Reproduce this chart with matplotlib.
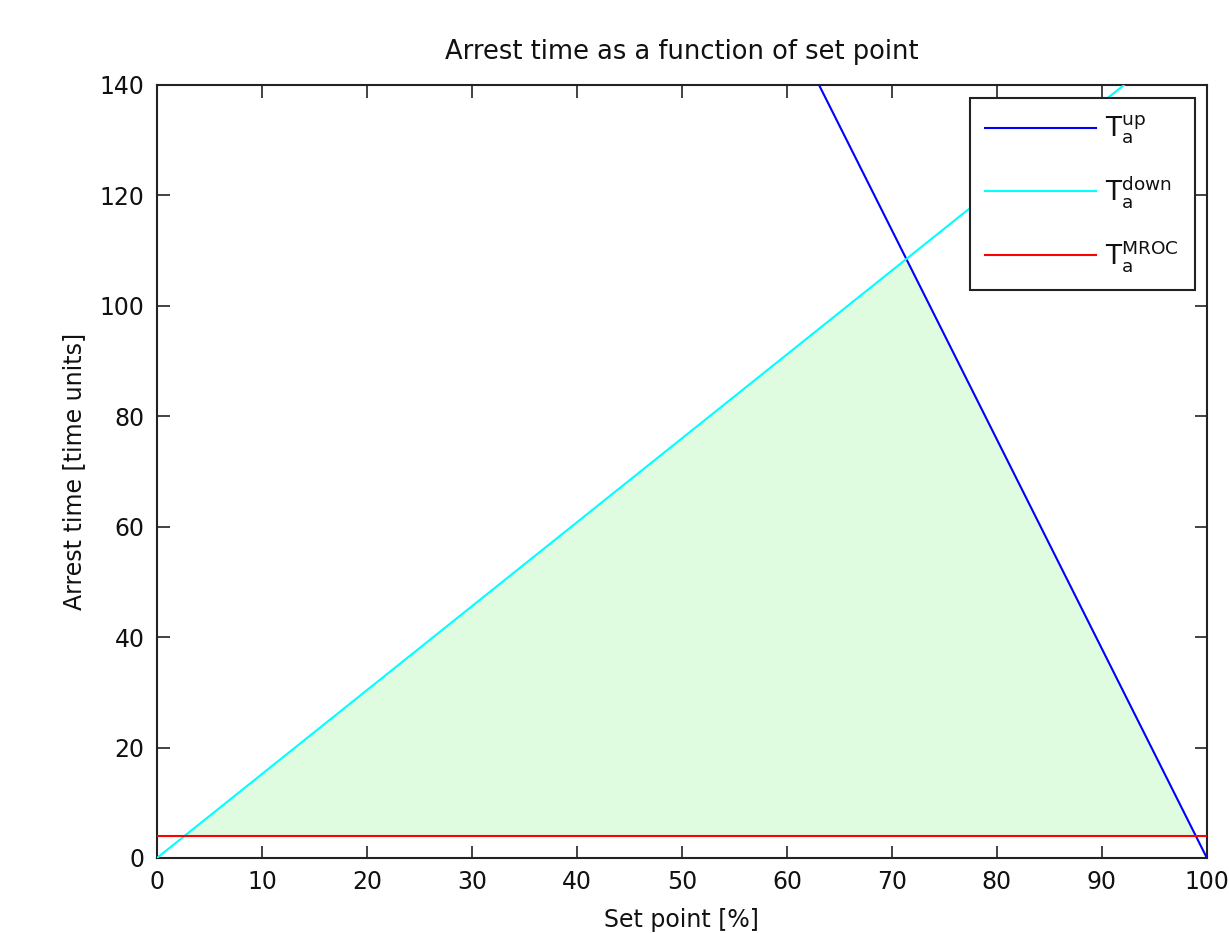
import numpy as np
import matplotlib
matplotlib.use("Agg")
import matplotlib.pyplot as plt

plt.rcParams['font.family'] = ['DejaVu Sans']
plt.rcParams['mathtext.default'] = 'regular'

# Data
set_point = [0, 100]                 # Set point [%]
t_up = [379.0, 0.0]                  # T_a^up at the set points above
t_down = [0.0, 152.0]                # T_a^down at the set points above
t_mroc = [4.0, 4.0]                  # T_a^MROC
labels = [r'$T_a^{up}$', r'$T_a^{down}$', r'$T_a^{MROC}$']

fig = plt.figure(figsize=(12.29, 9.33), dpi=100)
ax = fig.add_axes([0.1277, 0.0804, 0.8543, 0.8285])

# Feasible region fill
xf = np.linspace(set_point[0], set_point[1], 2001)
up_i = np.interp(xf, set_point, t_up)
down_i = np.interp(xf, set_point, t_down)
mroc_i = np.interp(xf, set_point, t_mroc)
top = np.minimum(up_i, down_i)
ax.fill_between(xf, mroc_i, top, where=top >= mroc_i, color='#e0fce0', lw=0, zorder=1)

ax.plot(set_point, t_up, color='#0000ff', lw=1.5, label=labels[0], zorder=3)
ax.plot(set_point, t_down, color='#00ffff', lw=1.5, label=labels[1], zorder=3)
ax.plot(set_point, t_mroc, color='#ff0000', lw=1.5, label=labels[2], zorder=3)

ax.set_xlim(0, 100)
ax.set_ylim(0, 140)
ax.set_xticks(np.arange(0, 101, 10))
ax.set_yticks(np.arange(0, 141, 20))
ax.tick_params(direction='in', length=9, width=1.2, top=True, right=True,
               labelsize=17, pad=9, color='#222222', labelcolor='#111111')
for s in ax.spines.values():
    s.set_linewidth(1.5)
    s.set_color('#222222')

ax.set_title('Arrest time as a function of set point', fontsize=18.5, pad=19, color='#111111')
ax.set_xlabel('Set point [%]', fontsize=17, labelpad=10, color='#111111')
ax.set_ylabel('Arrest time [time units]', fontsize=17, labelpad=10, color='#111111')

leg = ax.legend(loc='upper right', fontsize=19, fancybox=False, framealpha=1,
                edgecolor='#222222', bbox_to_anchor=(0.9886, 0.9832), borderaxespad=0,
                handlelength=4.2, labelspacing=1.05, borderpad=0.6, handletextpad=0.35)
leg.get_frame().set_linewidth(1.5)
for t in leg.get_texts():
    t.set_color('#111111')

fig.savefig('out.png', dpi=100)
